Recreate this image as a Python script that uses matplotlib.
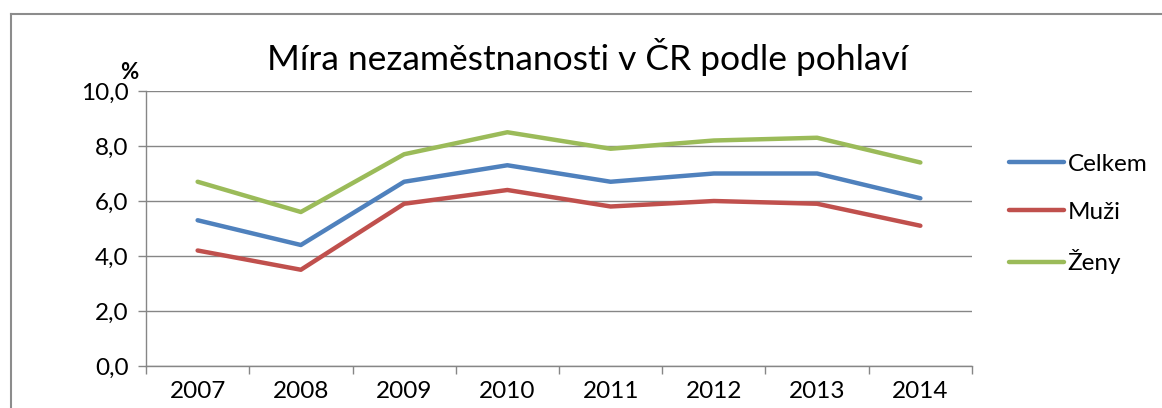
import matplotlib
matplotlib.use("Agg")
import matplotlib.pyplot as plt
from matplotlib.lines import Line2D
from matplotlib.ticker import FuncFormatter, FixedLocator

plt.rcParams["font.family"] = ["Lato", "DejaVu Sans"]

years = ["2007", "2008", "2009", "2010", "2011", "2012", "2013", "2014"]
celkem = [5.3, 4.4, 6.7, 7.3, 6.7, 7.0, 7.0, 6.1]
muzi = [4.2, 3.5, 5.9, 6.4, 5.8, 6.0, 5.9, 5.1]
zeny = [6.7, 5.6, 7.7, 8.5, 7.9, 8.2, 8.3, 7.4]

W, H = 1162, 408
fig = plt.figure(figsize=(W / 100, H / 100), dpi=100)
ax = fig.add_axes([146 / W, 1 - 366 / H, (972 - 146) / W, (366 - 91) / H])

x = list(range(len(years)))
ax.plot(x, celkem, color="#4F81BD", lw=3.2, label="Celkem", solid_capstyle="round")
ax.plot(x, muzi, color="#C0504D", lw=3.2, label="Muži", solid_capstyle="round")
ax.plot(x, zeny, color="#9BBB59", lw=3.2, label="Ženy", solid_capstyle="round")

ax.set_xlim(-0.5, len(years) - 0.5)
ax.set_ylim(0, 10)
ax.set_yticks([0, 2, 4, 6, 8, 10])
ax.yaxis.set_major_formatter(FuncFormatter(lambda v, _: f"{v:.1f}".replace(".", ",")))
ax.set_xticks(x)
ax.set_xticklabels(years)
ax.xaxis.set_minor_locator(FixedLocator([i - 0.5 for i in range(len(years) + 1)]))
ax.tick_params(axis="x", which="major", length=0, pad=11, labelsize=17.5)
ax.tick_params(axis="x", which="minor", length=5.5, width=1, color="#868686", direction="out")
ax.tick_params(axis="y", length=5.5, width=1, color="#868686", pad=7, labelsize=17.5)
ax.grid(axis="y", color="#868686", lw=1)
ax.set_axisbelow(True)
for s in ("top", "right"):
    ax.spines[s].set_visible(False)
for s in ("left", "bottom"):
    ax.spines[s].set_color("#868686")
    ax.spines[s].set_linewidth(1)

fig.text(588 / W, 1 - 70 / H, "Míra nezaměstnanosti v ČR podle pohlaví",
         ha="center", va="baseline", fontsize=25.5)
fig.text(129 / W, 1 - 79 / H, "%", ha="center", va="baseline", fontsize=16, fontweight="bold")

leg = ax.legend(loc="center left", bbox_to_anchor=(1009 / W, 1 - 214 / H),
                bbox_transform=fig.transFigure, borderaxespad=0, borderpad=0,
                frameon=False, fontsize=17.5, handlelength=2.26, handletextpad=0.16,
                labelspacing=1.1)

# chart border (cropped at right and bottom)
fig.add_artist(Line2D([11 / W, 1.0], [1 - 14 / H] * 2, color="#8c8c8c", lw=1.5))
fig.add_artist(Line2D([11 / W] * 2, [0.0, 1 - 14 / H], color="#8c8c8c", lw=1.5))

fig.savefig("out.png", dpi=100)
